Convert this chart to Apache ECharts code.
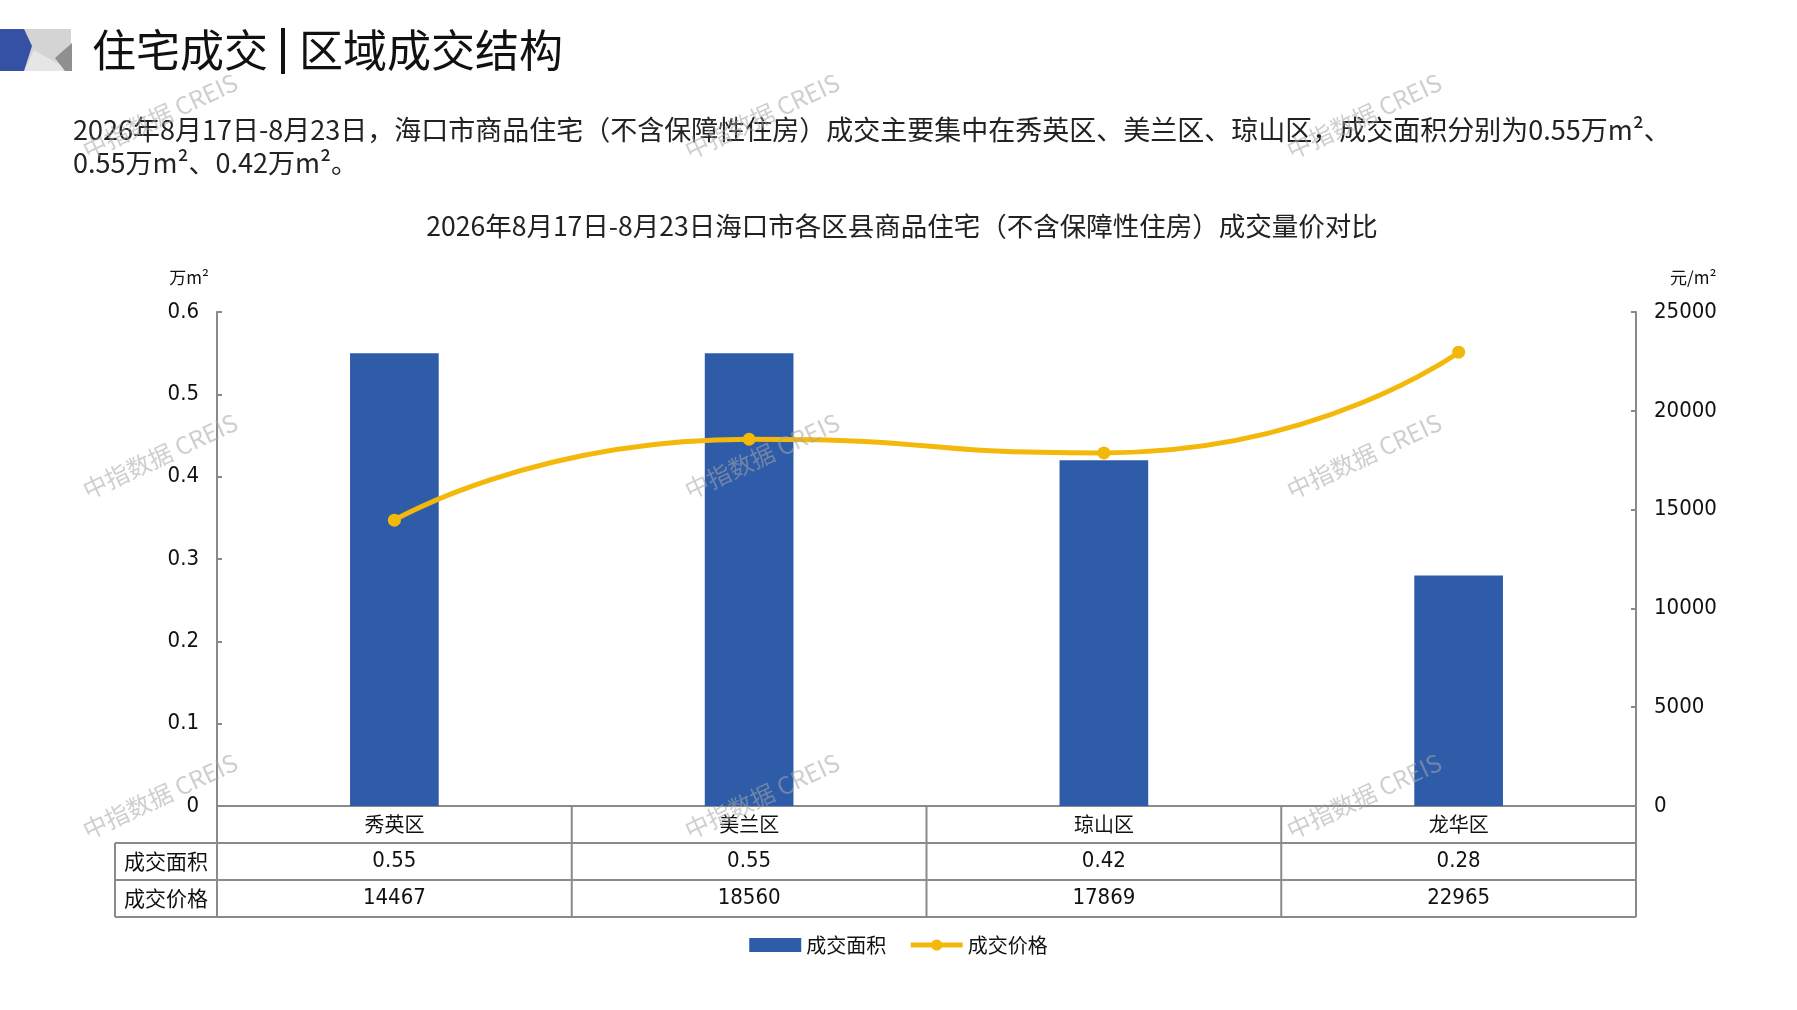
<!DOCTYPE html>
<html>
<head>
<meta charset="utf-8">
<script src="https://cdn.jsdelivr.net/npm/echarts@6/dist/echarts.min.js"></script>
<style>
  html, body { margin: 0; padding: 0; background: #fff; }
  #chart { width: 1797px; height: 1010px; }
</style>
</head>
<body>
<div id="chart"></div>
<script>
// data
const districts = ['秀英区', '美兰区', '琼山区', '龙华区']
const areaValues = [0.55, 0.55, 0.42, 0.28]      // 万m²
const priceValues = [14467, 18560, 17869, 22965] // 元/m²
const rowNames = ['成交面积', '成交价格']
const areaAxis = { min: 0, max: 0.6, interval: 0.1 }
const priceAxis = { min: 0, max: 25000, interval: 5000 }

const pageTitle = ['住宅成交', '区域成交结构']
const summary = [
  '2026年8月17日-8月23日，海口市商品住宅（不含保障性住房）成交主要集中在秀英区、美兰区、琼山区，成交面积分别为0.55万m²、',
  '0.55万m²、0.42万m²。'
]
const chartTitle = '2026年8月17日-8月23日海口市各区县商品住宅（不含保障性住房）成交量价对比'
const watermark = '中指数据 CREIS'

const CJK = "'Noto Sans CJK SC', sans-serif"
const NUM = "'Liberation Sans Narrow', 'DejaVu Sans Condensed', 'Liberation Sans', sans-serif"
const lineColor = '#8a8a8a'
const barColor = '#2E5CA8'
const priceColor = '#F4B80A'

const chart = echarts.init(document.getElementById('chart'))

const option = {
  animation: false,
  backgroundColor: '#fff',
  grid: { left: 217, right: 161, top: 312, bottom: 204 },
  legend: {
    top: 930,
    left: 'center',
    itemGap: 22,
    itemWidth: 52,
    itemHeight: 14,
    textStyle: { fontFamily: CJK, fontSize: 20, color: '#111' },
    data: [
      { name: '成交面积', icon: 'rect', itemStyle: { borderWidth: 0 } },
      { name: '成交价格', lineStyle: { width: 5 } }
    ]
  },
  xAxis: {
    type: 'category',
    data: districts,
    axisLine: { lineStyle: { color: lineColor, width: 2 } },
    axisTick: { show: false },
    axisLabel: { margin: 8, fontFamily: CJK, fontSize: 20, lineHeight: 20, color: '#111' }
  },
  yAxis: [
    {
      type: 'value',
      min: areaAxis.min, max: areaAxis.max, interval: areaAxis.interval,
      name: '万m²',
      nameLocation: 'end',
      nameGap: 26,
      nameTextStyle: { fontFamily: CJK, fontSize: 17, color: '#111', align: 'right', padding: [0, 8, 0, 0] },
      axisLine: { show: true, lineStyle: { color: lineColor, width: 2 } },
      axisTick: { show: true, inside: true, length: 5, lineStyle: { color: lineColor, width: 2 } },
      axisLabel: { margin: 18, fontFamily: NUM, fontSize: 22, color: '#111', formatter: v => v === 0 ? '0' : v.toFixed(1) },
      splitLine: { show: false }
    },
    {
      type: 'value',
      min: priceAxis.min, max: priceAxis.max, interval: priceAxis.interval,
      name: '元/m²',
      nameLocation: 'end',
      nameGap: 26,
      nameTextStyle: { fontFamily: CJK, fontSize: 17, color: '#111', align: 'left', padding: [0, 0, 0, 34] },
      axisLine: { show: true, lineStyle: { color: lineColor, width: 2 } },
      axisTick: { show: true, inside: true, length: 5, lineStyle: { color: lineColor, width: 2 } },
      axisLabel: { margin: 18, fontFamily: NUM, fontSize: 22, color: '#111', formatter: v => String(v) },
      splitLine: { show: false }
    }
  ],
  series: [
    {
      name: '成交面积',
      type: 'bar',
      data: areaValues,
      barWidth: '25%',
      itemStyle: { color: barColor }
    },
    {
      name: '成交价格',
      type: 'line',
      yAxisIndex: 1,
      data: priceValues,
      smooth: 0.6,
      symbol: 'circle',
      symbolSize: 13,
      itemStyle: { color: priceColor },
      lineStyle: { color: priceColor, width: 5 },
      z: 5
    }
  ]
}
chart.setOption(option)

// table under the plot, positioned from the axis scales
const centers = districts.map(d => chart.convertToPixel({ xAxisIndex: 0 }, d))
const half = (centers[1] - centers[0]) / 2
const y0 = chart.convertToPixel({ yAxisIndex: 0 }, 0)
const rowH = 37
const tableLeft = 115
const colLeft = centers[0] - half
const colRight = centers[centers.length - 1] + half

const g = []
const line = (x1, y1, x2, y2) => g.push({
  type: 'line', shape: { x1, y1, x2, y2 },
  style: { stroke: lineColor, lineWidth: 2 }, z: 10
})
for (let r = 1; r <= 3; r++) line(tableLeft, y0 + r * rowH, colRight, y0 + r * rowH)
line(tableLeft, y0 + rowH, tableLeft, y0 + 3 * rowH)
for (let i = 0; i <= districts.length; i++) {
  const x = colLeft + i * 2 * half
  line(x, y0, x, y0 + 3 * rowH)
}
rowNames.forEach((n, r) => g.push({
  type: 'text', x: (tableLeft + colLeft) / 2, y: y0 + (r + 1.5) * rowH, z: 10,
  style: { text: n, fill: '#111', font: '21px ' + CJK, align: 'center', verticalAlign: 'middle' }
}))
const rows = [areaValues.map(v => v.toFixed(2)), priceValues.map(v => String(v))]
rows.forEach((vals, r) => vals.forEach((v, i) => g.push({
  type: 'text', x: centers[i], y: y0 + (r + 1.5) * rowH, z: 10,
  style: { text: v, fill: '#111', font: '22px ' + NUM, align: 'center', verticalAlign: 'middle' }
})))

// page header
g.push(
  { type: 'rect', shape: { x: 24, y: 29, width: 47, height: 42 }, style: { fill: '#d4d4d4' }, z: 1 },
  { type: 'polygon', shape: { points: [[24, 71], [34, 50], [71, 71]] }, style: { fill: '#e6e6e6' }, z: 2 },
  { type: 'polygon', shape: { points: [[72, 43], [55, 58], [65, 71], [72, 71]] }, style: { fill: '#8f8f8f' }, z: 2 },
  { type: 'polygon', shape: { points: [[0, 29], [24, 29], [32, 46], [24, 71], [0, 71]] }, style: { fill: '#3451A3' }, z: 3 },
  { type: 'text', x: 92, y: 50, style: { text: pageTitle[0], fill: '#111', font: '44px ' + CJK, verticalAlign: 'middle' } },
  { type: 'rect', shape: { x: 281, y: 28, width: 4, height: 46 }, style: { fill: '#111' } },
  { type: 'text', x: 299, y: 50, style: { text: pageTitle[1], fill: '#111', font: '44px ' + CJK, verticalAlign: 'middle' } },
  { type: 'text', x: 73, y: 130, style: { text: summary[0], fill: '#222', font: '27px ' + CJK, verticalAlign: 'middle' } },
  { type: 'text', x: 73, y: 163, style: { text: summary[1], fill: '#222', font: '27px ' + CJK, verticalAlign: 'middle' } },
  { type: 'text', x: 902, y: 226, style: { text: chartTitle, fill: '#222', font: '26.5px ' + CJK, align: 'center', verticalAlign: 'middle' } }
)

// watermarks
;[160, 762, 1364].forEach(x => [116, 456, 796].forEach(y => g.push({
  type: 'text', x, y, rotation: 25 * Math.PI / 180, z: 100,
  style: { text: watermark, fill: 'rgba(165,165,165,0.55)', font: '24px ' + CJK, align: 'center', verticalAlign: 'middle' }
})))

chart.setOption({ graphic: g })
</script>
</body>
</html>
